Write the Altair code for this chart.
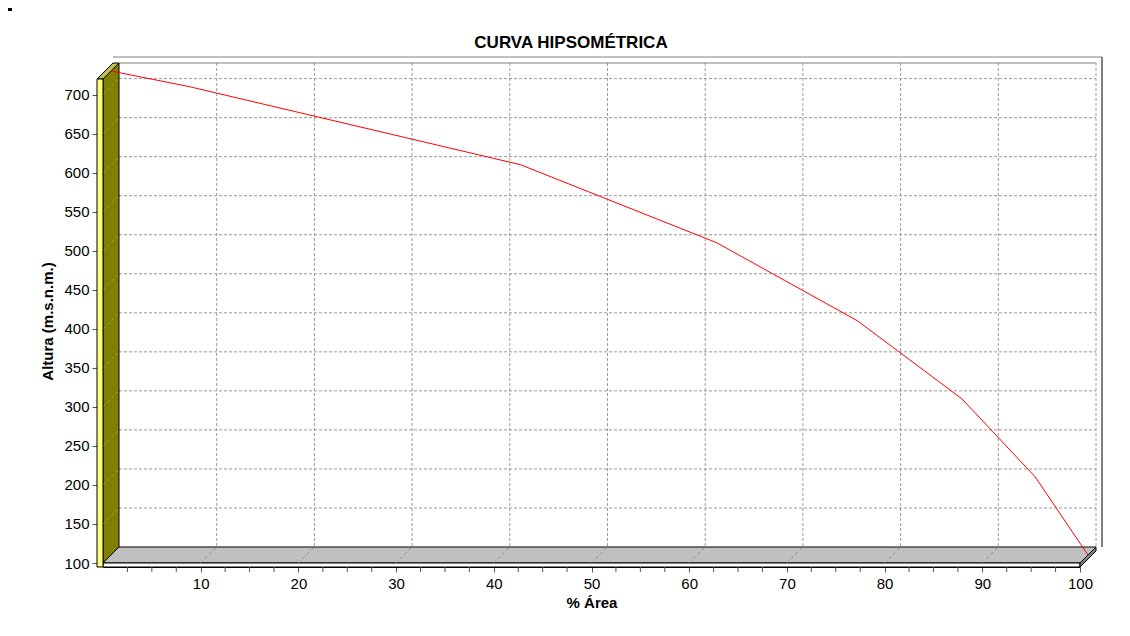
import altair as alt
import pandas as pd

# ---- data ----
area_pct = [0, 8, 41.9, 62.0, 76.4, 87.1, 94.6, 100]
altura = [720, 700, 600, 500, 400, 300, 200, 100]
x_label_values = [10, 20, 30, 40, 50, 60, 70, 80, 90, 100]
x_minor_values = [2.5, 5, 7.5, 12.5, 15, 17.5, 22.5, 25, 27.5, 32.5, 35, 37.5, 42.5, 45, 47.5,
                  52.5, 55, 57.5, 62.5, 65, 67.5, 72.5, 75, 77.5, 82.5, 85, 87.5, 92.5, 95, 97.5]
y_tick_values = [100, 150, 200, 250, 300, 350, 400, 450, 500, 550, 600, 650, 700]
title_text = "CURVA HIPSOMÉTRICA"
x_title = "% Área"
y_title = "Altura (m.s.n.m.)"

# ---- layout / style constants ----
W, H, D = 977, 484, 16
X0, X1, Y0, Y1 = 0, 100, 100, 720
FONT = "Liberation Sans"
GRID = "#9a9a9a"
TICK = "#555555"

# pixel depth converted to data units (for the 3D walls)
DX = D * (X1 - X0) / W
DY = D * (Y1 - Y0) / H
TX = 6 * (X1 - X0) / W   # left wall front thickness
TY = 4 * (Y1 - Y0) / H   # floor front thickness

df = pd.DataFrame({"pct": area_pct, "alt": altura})
xs = alt.Scale(domain=[X0, X1], nice=False, zero=False)
ys = alt.Scale(domain=[Y0, Y1], nice=False, zero=False)
one = pd.DataFrame({"a": [0]})
xgrid = pd.DataFrame({"v": x_label_values[:-1]})
xminor = pd.DataFrame({"v": x_minor_values})
ygrid = pd.DataFrame({"v": y_tick_values[1:]})


def X(f):
    return alt.X(f, type="quantitative", scale=xs)


def Y(f):
    return alt.Y(f, type="quantitative", scale=ys)


# back wall frame bands (white strips with thin borders)
top_band = alt.Chart(one).mark_rect(fill="white").encode(
    x=alt.value(D - 6), x2=alt.value(W + D + 6), y=alt.value(-D - 6), y2=alt.value(-D))
right_band = alt.Chart(one).mark_rect(fill="white").encode(
    x=alt.value(W + D), x2=alt.value(W + D + 6), y=alt.value(-D - 6), y2=alt.value(H - D))
top_outer = alt.Chart(one).mark_rule(color="#808080").encode(
    x=alt.value(D - 6), x2=alt.value(W + D + 6), y=alt.value(-D - 6))
top_inner = alt.Chart(one).mark_rule(color="#808080").encode(
    x=alt.value(D), x2=alt.value(W + D), y=alt.value(-D))
right_outer = alt.Chart(one).mark_rule(color="black").encode(
    x=alt.value(W + D + 6), y=alt.value(-D - 6), y2=alt.value(H - D))
right_inner = alt.Chart(one).mark_rule(color=GRID, strokeDash=[3, 2]).encode(
    x=alt.value(W + D), y=alt.value(-D), y2=alt.value(H - D))

# back wall grid
vgrid = alt.Chart(xgrid).mark_rule(color=GRID, strokeDash=[3, 2], strokeWidth=1, xOffset=D).encode(
    x=X("v"), y=alt.value(-D), y2=alt.value(H - D))
hgrid = alt.Chart(ygrid).mark_rule(color=GRID, strokeDash=[3, 2], strokeWidth=1, yOffset=-D).encode(
    y=Y("v"), x=alt.value(D), x2=alt.value(W + D))

# floor
floor_df = pd.DataFrame({"y": [Y0, Y0 + DY], "x": [X0, X0 + DX], "x2": [X1, X1 + DX]})
floor = alt.Chart(floor_df).mark_area(orient="horizontal", fill="#c0c0c0", stroke="black",
                                      strokeWidth=1).encode(y=Y("y"), x=X("x"), x2="x2:Q")
floor_front = alt.Chart(one).mark_rect(fill="white", stroke="black", strokeWidth=1).encode(
    x=alt.value(0), x2=alt.value(W), y=alt.value(H), y2=alt.value(H + 4))
fr_df = pd.DataFrame({"x": [X1, X1 + DX], "y": [Y0, Y0 + DY], "y2": [Y0 - TY, Y0 + DY - TY]})
floor_right = alt.Chart(fr_df).mark_area(orient="vertical", fill="#808080", stroke="black",
                                         strokeWidth=1).encode(x=X("x"), y=Y("y"), y2="y2:Q")
floor_diag = alt.Chart(xgrid).mark_rule(color="#8a8a8a", strokeDash=[3, 3], strokeWidth=1,
                                        x2Offset=D).encode(
    x=X("v"), x2="v:Q", y=alt.value(H), y2=alt.value(H - D))

# left wall
lw_df = pd.DataFrame({"x": [X0, X0 + DX], "y": [Y1, Y1 + DY], "y2": [Y0, Y0 + DY]})
left_wall = alt.Chart(lw_df).mark_area(orient="vertical", fill="#808000", stroke="black",
                                       strokeWidth=1).encode(x=X("x"), y=Y("y"), y2="y2:Q")
lt_df = pd.DataFrame({"y": [Y1, Y1 + DY], "x": [X0 - TX, X0 - TX + DX], "x2": [X0, X0 + DX]})
left_top = alt.Chart(lt_df).mark_area(orient="horizontal", fill="#c0c040", stroke="black",
                                      strokeWidth=1).encode(y=Y("y"), x=X("x"), x2="x2:Q")
left_front = alt.Chart(one).mark_rect(fill="#ffff80", stroke="black", strokeWidth=1).encode(
    x=alt.value(-6), x2=alt.value(0), y=alt.value(0), y2=alt.value(H + 4))
wall_diag = alt.Chart(ygrid).mark_rule(color="#a0a060", strokeDash=[3, 3], strokeWidth=1,
                                       y2Offset=-D).encode(
    y=Y("v"), y2="v:Q", x=alt.value(0), x2=alt.value(D))

# minor ticks of the x axis
minor_ticks = alt.Chart(xminor).mark_rule(color=TICK, strokeWidth=1).encode(
    x=X("v"), y=alt.value(H + 4), y2=alt.value(H + 9))

# data line (drawn at mid depth)
line = alt.Chart(df).mark_line(color="#ff0000", strokeWidth=1, xOffset=D / 2, yOffset=-D / 2).encode(
    x=alt.X("pct:Q", scale=xs, axis=alt.Axis(
        title=x_title, values=x_label_values, grid=False, offset=4, tickSize=5,
        labelFontSize=15, labelPadding=4, labelColor="black", tickColor=TICK,
        domainColor="black", titleFontSize=15, titleFontWeight="bold", titlePadding=4,
        titleColor="black", labelFlush=False, labelOverlap=False)),
    y=alt.Y("alt:Q", scale=ys, axis=alt.Axis(
        title=y_title, values=y_tick_values, grid=False, offset=6, tickSize=5,
        labelFontSize=15, labelPadding=3, labelColor="black", tickColor=TICK,
        domainColor="black", titleFontSize=15, titleFontWeight="bold", titlePadding=8,
        titleColor="black", labelFlush=False, labelOverlap=False)),
)

title = alt.Chart(one).mark_text(text=title_text, font=FONT, fontSize=17, fontWeight="bold",
                                 align="center", baseline="middle", color="black").encode(
    x=alt.value(468), y=alt.value(-36))
corner = alt.Chart(one).mark_rect(fill="black").encode(
    x=alt.value(-95), x2=alt.value(-91), y=alt.value(-71), y2=alt.value(-68))

chart = alt.layer(
    top_band, right_band, vgrid, hgrid, top_outer, top_inner, right_outer, right_inner,
    floor, floor_front, floor_right, floor_diag,
    left_wall, wall_diag, left_top, left_front, minor_ticks, line, title, corner
).properties(
    width=W, height=H,
    padding={"left": 95, "top": 71, "right": 30, "bottom": 60},
    autosize=alt.AutoSizeParams(type="none"),
    view=alt.ViewBackground(stroke="transparent", strokeWidth=0),
).configure_view(stroke="transparent", strokeWidth=0).configure_axis(
    labelFont=FONT, titleFont=FONT, grid=False).configure(background="white")

chart.save("out.html", embed_options={"renderer": "svg", "actions": False})
